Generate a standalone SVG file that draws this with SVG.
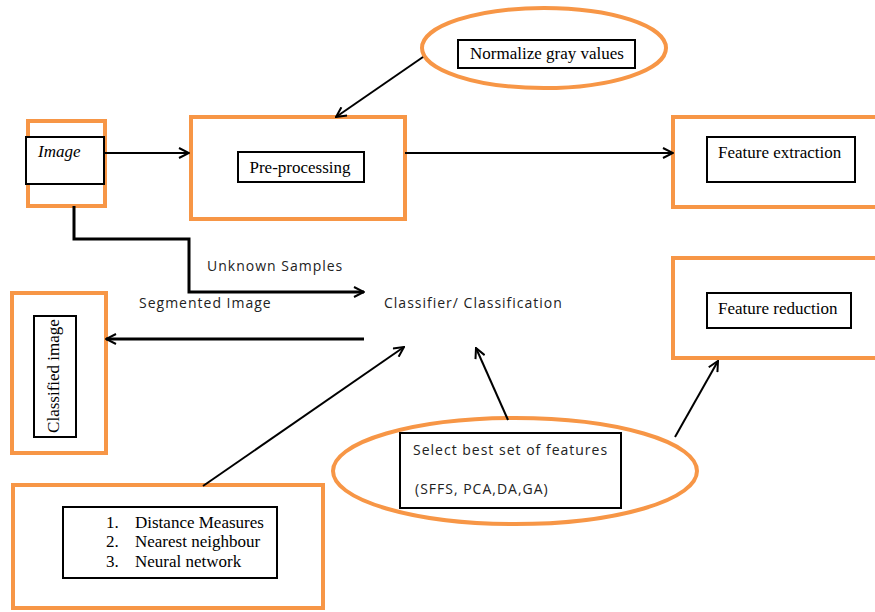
<svg xmlns="http://www.w3.org/2000/svg" width="875" height="612" viewBox="0 0 875 612">
<style>
.o{fill:none;stroke:#F79646;stroke-width:4}
.b{fill:#fff;stroke:#000;stroke-width:2}
.s{font-family:"Liberation Serif",serif;font-size:17px;fill:#000}
.n{font-family:"Open Sans","Noto Sans",sans-serif;font-size:14px;letter-spacing:1px;fill:#222}
.c{fill:none;stroke:#000;stroke-width:2}
.t{fill:none;stroke:#000;stroke-width:3}
</style>
<defs>
<marker id="a" viewBox="0 0 12 12" refX="11" refY="6" markerWidth="12" markerHeight="12" markerUnits="userSpaceOnUse" orient="auto">
<path d="M1,1 L11,6 L1,11" fill="none" stroke="#000" stroke-width="2"/>
</marker>
</defs>
<rect width="875" height="612" fill="#fff"/>
<g id="image">
<rect class="o" x="28" y="121" width="77" height="85"/>
<rect class="b" x="26" y="137" width="78" height="47"/>
<text class="s" x="38" y="157" font-style="italic" font-size="16">Image</text>
</g>
<g id="preprocessing">
<rect class="o" x="191" y="117" width="214" height="102"/>
<rect class="b" x="238" y="152" width="126" height="30"/>
<text class="s" x="300" y="173" text-anchor="middle">Pre-processing</text>
</g>
<g id="normalize">
<ellipse class="o" cx="544" cy="48" rx="122" ry="40"/>
<rect class="b" x="458" y="40" width="177" height="28"/>
<text class="s" x="547" y="59" text-anchor="middle">Normalize gray values</text>
</g>
<g id="feature-extraction">
<rect class="o" x="673" y="117" width="210" height="90"/>
<rect class="b" x="707" y="137" width="148" height="45"/>
<text class="s" x="718" y="158">Feature extraction</text>
</g>
<g id="feature-reduction">
<rect class="o" x="673" y="258" width="210" height="100"/>
<rect class="b" x="707" y="293" width="144" height="35"/>
<text class="s" x="718" y="314">Feature reduction</text>
</g>
<g id="classifier">
<text class="n" x="384" y="308">Classifier/ Classification</text>
</g>
<g id="classified-image">
<rect class="o" x="12" y="293" width="94" height="160"/>
<rect class="b" x="34" y="316" width="42" height="121"/>
<text class="s" font-size="13" transform="translate(59,376) rotate(-90)" text-anchor="middle">Classified image</text>
</g>
<g id="select-features">
<ellipse class="o" cx="515" cy="471" rx="182" ry="53"/>
<rect class="b" x="400" y="433" width="221" height="75"/>
<text class="n" x="413" y="455">Select best set of features</text>
<text class="n" x="415" y="494">(SFFS, PCA,DA,GA)</text>
</g>
<g id="methods">
<rect class="o" x="13" y="485" width="310" height="123"/>
<rect class="b" x="63" y="507" width="214" height="71"/>
<text class="s" x="106" y="528">1.</text>
<text class="s" x="135" y="528">Distance Measures</text>
<text class="s" x="106" y="547">2.</text>
<text class="s" x="135" y="547">Nearest neighbour</text>
<text class="s" x="106" y="567">3.</text>
<text class="s" x="135" y="567">Neural network</text>
</g>
<g id="connectors">
<line class="c" x1="104" y1="153" x2="189" y2="153" marker-end="url(#a)"/>
<line class="c" x1="405" y1="153" x2="673" y2="153" marker-end="url(#a)"/>
<line class="c" x1="423" y1="57" x2="336" y2="117" marker-end="url(#a)"/>
<polyline class="t" points="74,206 74,239 189,239 189,292 364,292" marker-end="url(#a)"/>
<line class="t" x1="364" y1="339" x2="106" y2="339" marker-end="url(#a)"/>
<line class="c" x1="203" y1="486" x2="404" y2="347" marker-end="url(#a)"/>
<line class="c" x1="508" y1="420" x2="476" y2="348" marker-end="url(#a)"/>
<line class="c" x1="675" y1="437" x2="718" y2="361" marker-end="url(#a)"/>
<text class="n" x="207" y="271">Unknown Samples</text>
<text class="n" x="139" y="308">Segmented Image</text>
</g>
</svg>
